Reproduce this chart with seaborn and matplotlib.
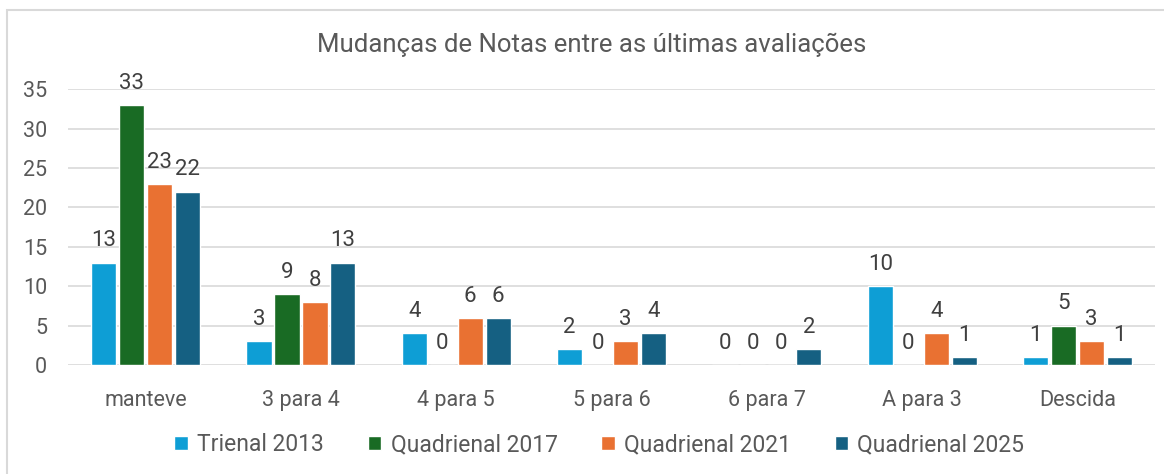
import numpy as np
import pandas as pd
import matplotlib.pyplot as plt
import seaborn as sns
from matplotlib.patches import Rectangle

# chart data
categorias = ['manteve', '3 para 4', '4 para 5', '5 para 6', '6 para 7', 'A para 3', 'Descida']
trienal_2013 = [13, 3, 4, 2, 0, 10, 1]
quadrienal_2017 = [33, 9, 0, 0, 0, 0, 5]
quadrienal_2021 = [23, 8, 6, 3, 0, 4, 3]
quadrienal_2025 = [22, 13, 6, 4, 2, 1, 1]
series = ['Trienal 2013', 'Quadrienal 2017', 'Quadrienal 2021', 'Quadrienal 2025']
cores = ['#0E9ED5', '#196B24', '#E97132', '#156082']

df = pd.DataFrame({
    'categoria': categorias * 4,
    'serie': np.repeat(series, len(categorias)),
    'valor': trienal_2013 + quadrienal_2017 + quadrienal_2021 + quadrienal_2025,
})

sns.set_style('white')
plt.rcParams['font.family'] = ['Roboto', 'DejaVu Sans']
cinza = '#595959'

fig = plt.figure(figsize=(11.64, 4.74), dpi=100)
ax = fig.add_axes([0.0584, 0.230, 0.934, 0.582])

sns.barplot(data=df, x='categoria', y='valor', hue='serie', palette=cores, saturation=1,
            width=0.72, gap=0.1, ax=ax, legend=True)

for c in ax.containers:
    ax.bar_label(c, fmt='%d', padding=8, fontsize=16, color='#404040', clip_on=False)

ax.set_ylim(0, 35)
ax.set_yticks(range(0, 36, 5))
ax.set_xlim(-0.5, 6.5)
ax.yaxis.grid(True, color='#d9d9d9', linewidth=1.2)
ax.set_axisbelow(True)
for s in ax.spines.values():
    s.set_visible(False)
ax.tick_params(axis='both', length=0, labelsize=15.5, colors=cinza)
ax.tick_params(axis='x', pad=18)
ax.tick_params(axis='y', pad=15)
ax.set_xlabel('')
ax.set_ylabel('')

fig.text(0.508, 0.905, 'Mudanças de Notas entre as últimas avaliações',
         ha='center', va='center', fontsize=18.5, color=cinza)

ax.get_legend().remove()
handles, labels = ax.get_legend_handles_labels()
fig.legend(handles[:4], labels[:4], loc='center', bbox_to_anchor=(0.515, 0.062), ncol=4,
           frameon=False, fontsize=16.5, labelcolor=cinza, handlelength=0.6, handleheight=0.6,
           handletextpad=0.4, columnspacing=1.9)

# chart border
fig.patches.append(Rectangle((7 / 1164, -0.05), 1.2, 1 - 10 / 474 + 0.05, transform=fig.transFigure,
                             fill=False, edgecolor='#d9d9d9', linewidth=1.5))

fig.savefig('out.png', dpi=100)
